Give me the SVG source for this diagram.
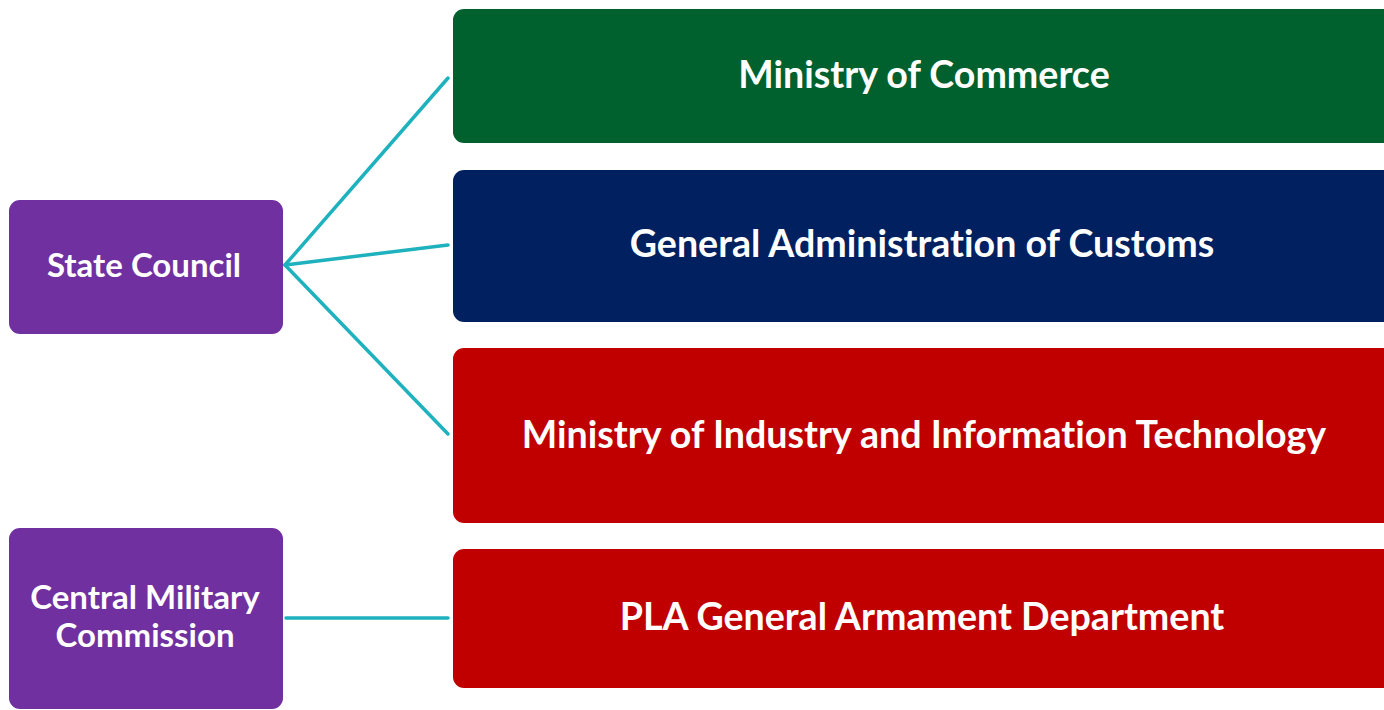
<svg xmlns="http://www.w3.org/2000/svg" width="1384" height="710" viewBox="0 0 1384 710">
<style>
.box{stroke:none}
.t{font-family:Lato,"Open Sans","Liberation Sans",sans-serif;font-weight:bold;fill:#fff;text-anchor:middle;font-variant-ligatures:none}
.big{font-size:37.6px}
.sm{font-size:33px}
.c{stroke:#1EB1BE;stroke-width:3.5;fill:none;stroke-linecap:round}
</style>
<rect width="1384" height="710" fill="#fff"/>
<g id="connectors">
<line class="c" x1="285" y1="265" x2="448" y2="78"/>
<line class="c" x1="285" y1="265" x2="448" y2="245"/>
<line class="c" x1="285" y1="265" x2="448" y2="434"/>
<line class="c" x1="286" y1="618" x2="448" y2="618"/>
</g>
<g id="state-council">
<rect class="box" x="9" y="200" width="274" height="134" rx="11" fill="#7030A0"/>
<text class="t sm" x="144" y="277">State Council</text>
</g>
<g id="central-military-commission">
<rect class="box" x="9" y="528" width="274" height="181" rx="11" fill="#7030A0"/>
<text class="t sm" x="145" y="609">Central Military</text>
<text class="t sm" x="145" y="647">Commission</text>
</g>
<g id="ministry-of-commerce">
<rect class="box" x="453" y="9" width="960" height="134" rx="11" fill="#00612E"/>
<text class="t big" x="924" y="88">Ministry of Commerce</text>
</g>
<g id="customs">
<rect class="box" x="453" y="170" width="960" height="152" rx="11" fill="#002060"/>
<text class="t big" x="922" y="257">General Administration of Customs</text>
</g>
<g id="miit">
<rect class="box" x="453" y="348" width="960" height="175" rx="11" fill="#C00000"/>
<text class="t big" x="924" y="448">Ministry of Industry and Information Technology</text>
</g>
<g id="pla-gad">
<rect class="box" x="453" y="549" width="960" height="139" rx="11" fill="#C00000"/>
<text class="t big" x="922" y="630">PLA General Armament Department</text>
</g>
</svg>
